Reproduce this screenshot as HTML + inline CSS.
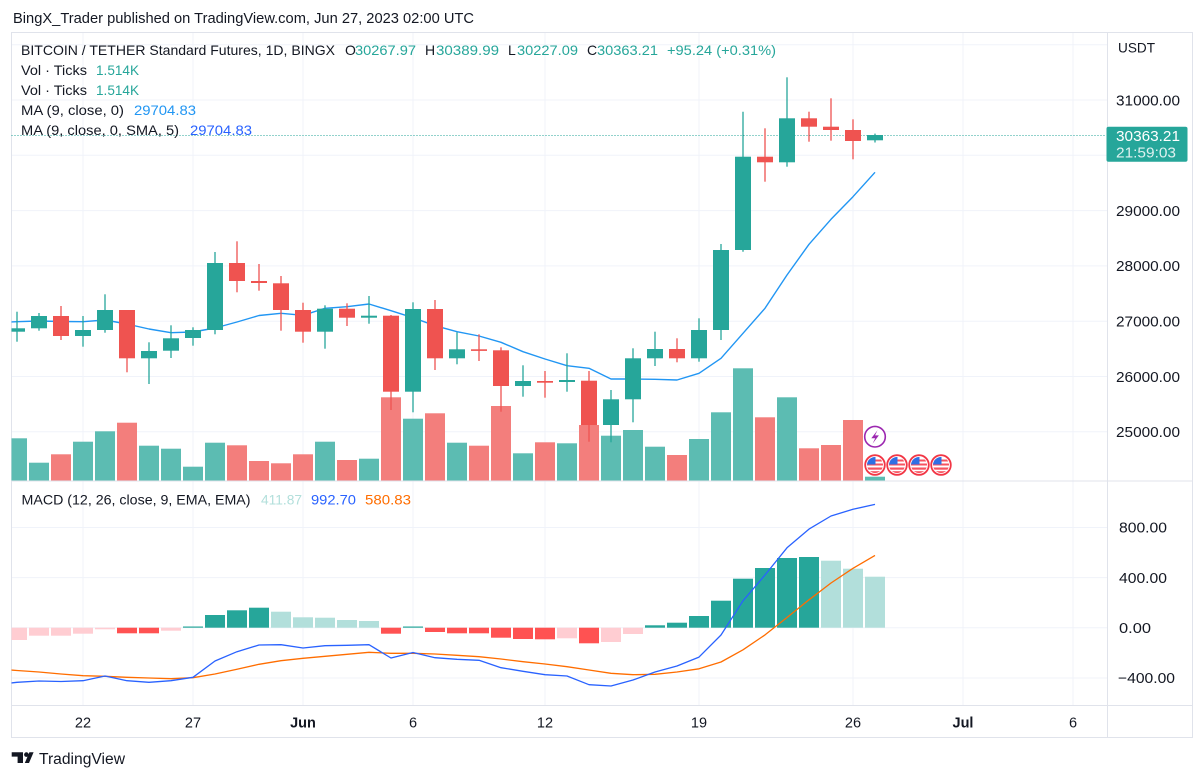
<!DOCTYPE html>
<html><head><meta charset="utf-8"><style>
html,body{margin:0;padding:0;background:#fff;}
svg{display:block;}
text{font-family:"Liberation Sans",Arial,sans-serif;fill:#131722;}
</style></head><body>
<svg width="1204" height="780" viewBox="0 0 1204 780" xmlns="http://www.w3.org/2000/svg">
<defs>
<clipPath id="main"><rect x="11.5" y="33.5" width="1095" height="447"/></clipPath>
<clipPath id="macd"><rect x="11.5" y="481.5" width="1095" height="223"/></clipPath>
<clipPath id="fc"><circle cx="0" cy="0" r="8"/></clipPath>
<g id="flag">
<circle cx="0" cy="0" r="9.8" fill="#fff" stroke="#f23645" stroke-width="1.8"/>
<g clip-path="url(#fc)">
<rect x="-8" y="-8" width="16" height="16" fill="#fff"/>
<rect x="-8" y="-5.5" width="16" height="2" fill="#f7525f"/>
<rect x="-8" y="-1.5" width="16" height="2" fill="#f7525f"/>
<rect x="-8" y="2.5" width="16" height="2.2" fill="#f7525f"/>
<rect x="-8" y="6.2" width="16" height="2" fill="#f7525f"/>
<rect x="-8" y="-8" width="8.5" height="7.5" fill="#2f6fe4"/>
</g>
</g>
</defs>

<!-- header -->
<text x="13" y="23" font-size="14.5" textLength="461" lengthAdjust="spacingAndGlyphs">BingX_Trader published on TradingView.com, Jun 27, 2023 02:00 UTC</text>

<!-- grid -->
<g stroke="#f0f3fa" stroke-width="1">
<line x1="11.5" y1="44.7" x2="1107" y2="44.7"/>
<line x1="11.5" y1="100" x2="1107" y2="100"/>
<line x1="11.5" y1="155.3" x2="1107" y2="155.3"/>
<line x1="11.5" y1="210.6" x2="1107" y2="210.6"/>
<line x1="11.5" y1="265.9" x2="1107" y2="265.9"/>
<line x1="11.5" y1="321.2" x2="1107" y2="321.2"/>
<line x1="11.5" y1="376.5" x2="1107" y2="376.5"/>
<line x1="11.5" y1="431.8" x2="1107" y2="431.8"/>
<line x1="11.5" y1="527.5" x2="1107" y2="527.5"/>
<line x1="11.5" y1="577.6" x2="1107" y2="577.6"/>
<line x1="11.5" y1="627.7" x2="1107" y2="627.7"/>
<line x1="11.5" y1="678" x2="1107" y2="678"/>
<line x1="83" y1="33" x2="83" y2="705"/>
<line x1="193" y1="33" x2="193" y2="705"/>
<line x1="303" y1="33" x2="303" y2="705"/>
<line x1="413" y1="33" x2="413" y2="705"/>
<line x1="545" y1="33" x2="545" y2="705"/>
<line x1="699" y1="33" x2="699" y2="705"/>
<line x1="853" y1="33" x2="853" y2="705"/>
<line x1="963" y1="33" x2="963" y2="705"/>
<line x1="1073" y1="33" x2="1073" y2="705"/>
</g>

<!-- borders -->
<g stroke="#e0e3eb" stroke-width="1" fill="none">
<rect x="11.5" y="32.5" width="1181" height="705"/>
<line x1="1107.5" y1="32.5" x2="1107.5" y2="737.5"/>
<line x1="11.5" y1="481" x2="1192.5" y2="481"/>
<line x1="11.5" y1="705.5" x2="1192.5" y2="705.5"/>
</g>

<g clip-path="url(#main)">
<!-- volume -->
<g fill="#5cbcb2">
<rect x="7" y="438.3" width="20" height="42.2"/>
<rect x="29" y="462.7" width="20" height="17.8"/>
<rect x="73" y="441.7" width="20" height="38.8"/>
<rect x="95" y="431.3" width="20" height="49.2"/>
<rect x="139" y="445.7" width="20" height="34.8"/>
<rect x="161" y="448.7" width="20" height="31.8"/>
<rect x="183" y="466.7" width="20" height="13.8"/>
<rect x="205" y="442.7" width="20" height="37.8"/>
<rect x="315" y="441.7" width="20" height="38.8"/>
<rect x="359" y="458.7" width="20" height="21.8"/>
<rect x="403" y="418.7" width="20" height="61.8"/>
<rect x="447" y="442.7" width="20" height="37.8"/>
<rect x="513" y="453.3" width="20" height="27.2"/>
<rect x="557" y="443.3" width="20" height="37.2"/>
<rect x="601" y="435.7" width="20" height="44.8"/>
<rect x="623" y="430" width="20" height="50.5"/>
<rect x="645" y="446.7" width="20" height="33.8"/>
<rect x="689" y="439" width="20" height="41.5"/>
<rect x="711" y="412.3" width="20" height="68.2"/>
<rect x="733" y="368.3" width="20" height="112.2"/>
<rect x="777" y="397.3" width="20" height="83.2"/>
<rect x="865" y="476.7" width="20" height="3.8"/>
</g>
<g fill="#f37e7c">
<rect x="51" y="454.3" width="20" height="26.2"/>
<rect x="117" y="422.7" width="20" height="57.8"/>
<rect x="227" y="445.3" width="20" height="35.2"/>
<rect x="249" y="461" width="20" height="19.5"/>
<rect x="271" y="463.3" width="20" height="17.2"/>
<rect x="293" y="454.3" width="20" height="26.2"/>
<rect x="337" y="460" width="20" height="20.5"/>
<rect x="381" y="397.3" width="20" height="83.2"/>
<rect x="425" y="413.3" width="20" height="67.2"/>
<rect x="469" y="445.7" width="20" height="34.8"/>
<rect x="491" y="406" width="20" height="74.5"/>
<rect x="535" y="442.3" width="20" height="38.2"/>
<rect x="579" y="425" width="20" height="55.5"/>
<rect x="667" y="455" width="20" height="25.5"/>
<rect x="755" y="417.3" width="20" height="63.2"/>
<rect x="799" y="448.3" width="20" height="32.2"/>
<rect x="821" y="445" width="20" height="35.5"/>
<rect x="843" y="420" width="20" height="60.5"/>
</g>

<!-- MA line -->
<polyline fill="none" stroke="#2196f3" stroke-width="1.4" stroke-linejoin="round" points="11,322 17,321.7 39,321 61,321.5 83,321.7 105,320 127,324 149,329 171,332.7 193,332 215,328 237,322 259,315.5 281,313.3 303,315.3 325,308.3 347,306.7 369,304 391,310.7 413,317.7 435,325.7 457,331.7 479,336 501,342.3 523,351.7 545,359 567,365.7 589,368.3 611,379 633,379 655,379.3 677,380 699,373.3 721,358.3 743,333.3 765,308.3 787,275 809,244.3 831,219.3 853,196.7 875,172.3"/>

<!-- current price dotted line -->
<line x1="11.5" y1="135.5" x2="1107" y2="135.5" stroke="#26a69a" stroke-width="1" stroke-dasharray="1,2"/>

<!-- green candles -->
<g stroke="#26a69a" stroke-width="1.3">
<line x1="17" y1="311.7" x2="17" y2="341.7"/>
<line x1="39" y1="313" x2="39" y2="330.7"/>
<line x1="83" y1="316" x2="83" y2="346.7"/>
<line x1="105" y1="294.3" x2="105" y2="332.7"/>
<line x1="149" y1="342.3" x2="149" y2="384"/>
<line x1="171" y1="325.3" x2="171" y2="358"/>
<line x1="193" y1="327.3" x2="193" y2="345.7"/>
<line x1="215" y1="252" x2="215" y2="334.3"/>
<line x1="325" y1="305.3" x2="325" y2="348.7"/>
<line x1="369" y1="296" x2="369" y2="323.7"/>
<line x1="413" y1="302.3" x2="413" y2="412.3"/>
<line x1="457" y1="332.3" x2="457" y2="364.3"/>
<line x1="523" y1="365.3" x2="523" y2="396.7"/>
<line x1="567" y1="353.3" x2="567" y2="391.7"/>
<line x1="611" y1="390" x2="611" y2="442.3"/>
<line x1="633" y1="348.3" x2="633" y2="422.3"/>
<line x1="655" y1="331.7" x2="655" y2="366"/>
<line x1="699" y1="318.3" x2="699" y2="361.7"/>
<line x1="721" y1="244" x2="721" y2="340"/>
<line x1="743" y1="111.7" x2="743" y2="251.7"/>
<line x1="787" y1="77.3" x2="787" y2="166.7"/>
<line x1="875" y1="133.6" x2="875" y2="142.5"/>
</g>
<g fill="#26a69a">
<rect x="9" y="328.3" width="16" height="3.4"/>
<rect x="31" y="316" width="16" height="12.3"/>
<rect x="75" y="330" width="16" height="6"/>
<rect x="97" y="310" width="16" height="20"/>
<rect x="141" y="351" width="16" height="7.3"/>
<rect x="163" y="338.3" width="16" height="12.4"/>
<rect x="185" y="330" width="16" height="8"/>
<rect x="207" y="263" width="16" height="67"/>
<rect x="317" y="308.7" width="16" height="23"/>
<rect x="361" y="315.7" width="16" height="2"/>
<rect x="405" y="309" width="16" height="82.7"/>
<rect x="449" y="349.3" width="16" height="9"/>
<rect x="515" y="381" width="16" height="5"/>
<rect x="559" y="380" width="16" height="2"/>
<rect x="603" y="399.3" width="16" height="25.7"/>
<rect x="625" y="358.3" width="16" height="41"/>
<rect x="647" y="349" width="16" height="9.3"/>
<rect x="691" y="330" width="16" height="28.3"/>
<rect x="713" y="250" width="16" height="80"/>
<rect x="735" y="156.7" width="16" height="93.3"/>
<rect x="779" y="118.3" width="16" height="44"/>
<rect x="867" y="135" width="16" height="5.3"/>
</g>
<!-- red candles -->
<g stroke="#ef5350" stroke-width="1.3">
<line x1="61" y1="306" x2="61" y2="340"/>
<line x1="127" y1="310" x2="127" y2="372.3"/>
<line x1="237" y1="241.3" x2="237" y2="292.3"/>
<line x1="259" y1="264" x2="259" y2="290.7"/>
<line x1="281" y1="276" x2="281" y2="330.7"/>
<line x1="303" y1="302.7" x2="303" y2="342.7"/>
<line x1="347" y1="303.3" x2="347" y2="326"/>
<line x1="391" y1="315" x2="391" y2="410"/>
<line x1="435" y1="300" x2="435" y2="370"/>
<line x1="479" y1="334.3" x2="479" y2="361"/>
<line x1="501" y1="347.3" x2="501" y2="411.7"/>
<line x1="545" y1="371" x2="545" y2="397.7"/>
<line x1="589" y1="371" x2="589" y2="441.7"/>
<line x1="677" y1="338.3" x2="677" y2="362.3"/>
<line x1="765" y1="128.3" x2="765" y2="181.7"/>
<line x1="809" y1="111.7" x2="809" y2="141.7"/>
<line x1="831" y1="98.3" x2="831" y2="140.7"/>
<line x1="853" y1="119.3" x2="853" y2="159.3"/>
</g>
<g fill="#ef5350">
<rect x="53" y="316" width="16" height="20"/>
<rect x="119" y="310" width="16" height="48.3"/>
<rect x="229" y="263" width="16" height="18"/>
<rect x="251" y="281" width="16" height="2"/>
<rect x="273" y="283.3" width="16" height="26.7"/>
<rect x="295" y="310" width="16" height="21.7"/>
<rect x="339" y="308.7" width="16" height="9"/>
<rect x="383" y="315.7" width="16" height="76"/>
<rect x="427" y="309" width="16" height="49.3"/>
<rect x="471" y="349.3" width="16" height="1.6"/>
<rect x="493" y="350.3" width="16" height="35.7"/>
<rect x="537" y="381" width="16" height="1.7"/>
<rect x="581" y="380.7" width="16" height="44.3"/>
<rect x="669" y="349" width="16" height="9.3"/>
<rect x="757" y="156.7" width="16" height="5.6"/>
<rect x="801" y="118.3" width="16" height="8.4"/>
<rect x="823" y="126.7" width="16" height="3.3"/>
<rect x="845" y="130" width="16" height="11"/>
</g>

<!-- events -->
<circle cx="875" cy="436.7" r="10.3" fill="#fff" stroke="#9c27b0" stroke-width="1.6"/>
<path d="M877.5 430.2 L871.3 438.2 H875.2 L872.6 443.6 L878.9 435.4 H875 Z" fill="#9c27b0"/>
<use href="#flag" x="875" y="465"/>
<use href="#flag" x="897" y="465"/>
<use href="#flag" x="919" y="465"/>
<use href="#flag" x="941" y="465"/>
</g>

<!-- MACD pane -->
<g clip-path="url(#macd)">
<g fill="#ffcdd2">
<rect x="7" y="627.7" width="20" height="12.3"/>
<rect x="29" y="627.7" width="20" height="8"/>
<rect x="51" y="627.7" width="20" height="8"/>
<rect x="73" y="627.7" width="20" height="6"/>
<rect x="95" y="627.7" width="20" height="1.6"/>
<rect x="161" y="627.7" width="20" height="3"/>
<rect x="557" y="627.7" width="20" height="10.6"/>
<rect x="601" y="627.7" width="20" height="14.3"/>
<rect x="623" y="627.7" width="20" height="6.3"/>
</g>
<g fill="#ff5252">
<rect x="117" y="627.7" width="20" height="5.6"/>
<rect x="139" y="627.7" width="20" height="5.6"/>
<rect x="381" y="627.7" width="20" height="6"/>
<rect x="425" y="627.7" width="20" height="4.3"/>
<rect x="447" y="627.7" width="20" height="5.6"/>
<rect x="469" y="627.7" width="20" height="5.6"/>
<rect x="491" y="627.7" width="20" height="10"/>
<rect x="513" y="627.7" width="20" height="11.3"/>
<rect x="535" y="627.7" width="20" height="11.6"/>
<rect x="579" y="627.7" width="20" height="15.6"/>
</g>
<g fill="#26a69a">
<rect x="183" y="626.5" width="20" height="1.2"/>
<rect x="205" y="615" width="20" height="12.7"/>
<rect x="227" y="610.3" width="20" height="17.4"/>
<rect x="249" y="607.7" width="20" height="20"/>
<rect x="403" y="626.5" width="20" height="1.2"/>
<rect x="645" y="625.3" width="20" height="2.4"/>
<rect x="667" y="622.7" width="20" height="5"/>
<rect x="689" y="616" width="20" height="11.7"/>
<rect x="711" y="600.7" width="20" height="27"/>
<rect x="733" y="578.7" width="20" height="49"/>
<rect x="755" y="568" width="20" height="59.7"/>
<rect x="777" y="558" width="20" height="69.7"/>
<rect x="799" y="557" width="20" height="70.7"/>
</g>
<g fill="#b2dfdb">
<rect x="271" y="611.7" width="20" height="16"/>
<rect x="293" y="617.3" width="20" height="10.4"/>
<rect x="315" y="617.7" width="20" height="10"/>
<rect x="337" y="620" width="20" height="7.7"/>
<rect x="359" y="621" width="20" height="6.7"/>
<rect x="821" y="560.7" width="20" height="67"/>
<rect x="843" y="568.7" width="20" height="59"/>
<rect x="865" y="576.7" width="20" height="51"/>
</g>
<polyline fill="none" stroke="#ff6d00" stroke-width="1.3" stroke-linejoin="round" points="11,670 17,670.5 39,672 61,674 83,675.7 105,676.3 127,677.3 149,678 171,678.7 193,677.7 215,674 237,669.3 259,664.3 281,660.7 303,658.3 325,656.3 347,654.3 369,652.3 391,653.3 413,653.3 435,654 457,655.3 479,656.7 501,659 523,661.7 545,664 567,666.7 589,670 611,673.3 633,674.7 655,674.3 677,672 699,668.8 721,662 743,649.8 765,634.9 787,617.5 809,599.8 831,583 853,568.3 875,555.4"/>
<polyline fill="none" stroke="#2962ff" stroke-width="1.3" stroke-linejoin="round" points="11,683 17,682.3 39,681 61,681.5 83,680.7 105,676 127,680.7 149,682.3 171,680.7 193,677.3 215,661 237,651.7 259,645 281,644.7 303,648 325,645.7 347,645.3 369,644.7 391,658 413,652.5 435,657.7 457,659.3 479,660.3 501,667.7 523,671.3 545,674.7 567,676 589,684.7 611,686 633,680 655,672 677,666 699,657.1 721,635 743,600.8 765,575 787,547.8 809,529.1 831,516 853,509.3 875,504.4"/>
</g>

<!-- legend -->
<text x="21" y="55" font-size="14" textLength="314" lengthAdjust="spacingAndGlyphs">BITCOIN / TETHER Standard Futures, 1D, BINGX</text>
<text x="345" y="55" font-size="14">O</text>
<text x="355" y="55" font-size="14" style="fill:#26a69a" textLength="61" lengthAdjust="spacingAndGlyphs">30267.97</text>
<text x="425" y="55" font-size="14">H</text>
<text x="436" y="55" font-size="14" style="fill:#26a69a" textLength="63" lengthAdjust="spacingAndGlyphs">30389.99</text>
<text x="508" y="55" font-size="14">L</text>
<text x="517" y="55" font-size="14" style="fill:#26a69a" textLength="61" lengthAdjust="spacingAndGlyphs">30227.09</text>
<text x="587" y="55" font-size="14">C</text>
<text x="597" y="55" font-size="14" style="fill:#26a69a" textLength="61" lengthAdjust="spacingAndGlyphs">30363.21</text>
<text x="667" y="55" font-size="14" style="fill:#26a69a" textLength="109" lengthAdjust="spacingAndGlyphs">+95.24 (+0.31%)</text>

<text x="21" y="75" font-size="14" textLength="66" lengthAdjust="spacingAndGlyphs">Vol · Ticks</text>
<text x="96" y="75" font-size="14" style="fill:#26a69a" textLength="43" lengthAdjust="spacingAndGlyphs">1.514K</text>
<text x="21" y="95" font-size="14" textLength="66" lengthAdjust="spacingAndGlyphs">Vol · Ticks</text>
<text x="96" y="95" font-size="14" style="fill:#26a69a" textLength="43" lengthAdjust="spacingAndGlyphs">1.514K</text>
<text x="21" y="115" font-size="14" textLength="103" lengthAdjust="spacingAndGlyphs">MA (9, close, 0)</text>
<text x="134" y="115" font-size="14" style="fill:#2196f3" textLength="62" lengthAdjust="spacingAndGlyphs">29704.83</text>
<text x="21" y="135" font-size="14" textLength="158" lengthAdjust="spacingAndGlyphs">MA (9, close, 0, SMA, 5)</text>
<text x="190" y="135" font-size="14" style="fill:#2962ff" textLength="62" lengthAdjust="spacingAndGlyphs">29704.83</text>

<text x="21.5" y="504.5" font-size="14" textLength="229" lengthAdjust="spacingAndGlyphs">MACD (12, 26, close, 9, EMA, EMA)</text>
<text x="261" y="504.5" font-size="14" style="fill:#b2dfdb" textLength="41" lengthAdjust="spacingAndGlyphs">411.87</text>
<text x="311" y="504.5" font-size="14" style="fill:#2962ff" textLength="45" lengthAdjust="spacingAndGlyphs">992.70</text>
<text x="365" y="504.5" font-size="14" style="fill:#ff6d00" textLength="46" lengthAdjust="spacingAndGlyphs">580.83</text>

<!-- price axis -->
<text x="1118" y="52.7" font-size="13.5" textLength="37" lengthAdjust="spacingAndGlyphs">USDT</text>
<g font-size="14.5">
<text x="1116" y="105.3" textLength="64" lengthAdjust="spacingAndGlyphs">31000.00</text>
<text x="1116" y="215.9" textLength="64" lengthAdjust="spacingAndGlyphs">29000.00</text>
<text x="1116" y="271.2" textLength="64" lengthAdjust="spacingAndGlyphs">28000.00</text>
<text x="1116" y="326.5" textLength="64" lengthAdjust="spacingAndGlyphs">27000.00</text>
<text x="1116" y="381.8" textLength="64" lengthAdjust="spacingAndGlyphs">26000.00</text>
<text x="1116" y="437.1" textLength="64" lengthAdjust="spacingAndGlyphs">25000.00</text>
<text x="1119" y="532.7" textLength="48" lengthAdjust="spacingAndGlyphs">800.00</text>
<text x="1119" y="582.8" textLength="48" lengthAdjust="spacingAndGlyphs">400.00</text>
<text x="1119" y="632.9" textLength="32" lengthAdjust="spacingAndGlyphs">0.00</text>
<text x="1118" y="683.2" textLength="57" lengthAdjust="spacingAndGlyphs">−400.00</text>
</g>
<rect x="1106.5" y="126.7" width="81" height="35" rx="2" fill="#26a69a"/>
<text x="1116" y="141.2" font-size="14.5" style="fill:#fff" textLength="64" lengthAdjust="spacingAndGlyphs">30363.21</text>
<text x="1116" y="157.5" font-size="14.5" style="fill:#fff;opacity:0.85" textLength="60" lengthAdjust="spacingAndGlyphs">21:59:03</text>

<!-- time axis -->
<g font-size="14.5" text-anchor="middle">
<text x="83" y="727.7">22</text>
<text x="193" y="727.7">27</text>
<text x="303" y="727.7" font-weight="bold">Jun</text>
<text x="413" y="727.7">6</text>
<text x="545" y="727.7">12</text>
<text x="699" y="727.7">19</text>
<text x="853" y="727.7">26</text>
<text x="963" y="727.7" font-weight="bold">Jul</text>
<text x="1073" y="727.7">6</text>
</g>

<!-- logo -->
<g fill="#131722">
<path d="M11.7 752.3 H23 V763 H17.6 V756.6 H11.7 Z"/>
<circle cx="26.4" cy="754.6" r="2.3"/>
<path d="M24.8 763 L29.4 752.3 H33.6 L29 763 Z"/>
</g>
<text x="39" y="764" font-size="15.5" textLength="86" lengthAdjust="spacingAndGlyphs">TradingView</text>
</svg>
</body></html>
